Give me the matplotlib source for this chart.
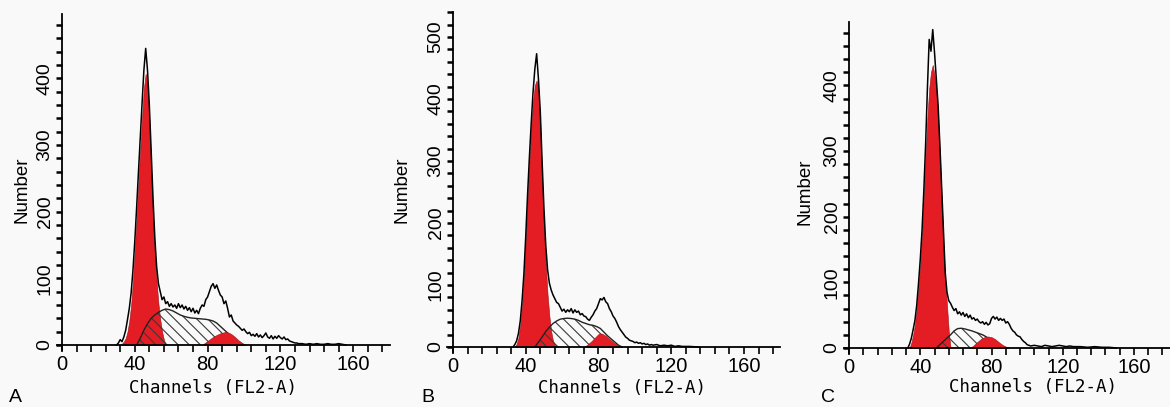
import matplotlib
matplotlib.use("Agg")
import matplotlib.pyplot as plt
from matplotlib.ticker import MultipleLocator

plt.rcParams["hatch.linewidth"] = 0.8

# ---------------- Panel A ----------------
a_total_ch = list(range(30, 131)) + [132, 134, 136, 138, 140, 142, 144, 146, 148, 150, 152, 154, 156]
a_total = [0, 3, 8, 5, 12, 22, 38, 55, 78, 112, 155, 205, 258, 310, 362, 412, 445, 412, 360, 292,
           222, 162, 118, 92, 80, 68, 72, 62, 65, 58, 62, 57, 60, 55, 62, 56, 60, 54, 58, 52,
           56, 50, 55, 48, 52, 47, 55, 60, 58, 68, 72, 80, 88, 92, 85, 90, 82, 75, 72, 62,
           66, 55, 42, 45, 36, 33, 30, 28, 25, 22, 24, 20, 17, 19, 14, 16, 13, 17, 12, 15,
           11, 14, 18, 12, 10, 14, 9, 13, 10, 14, 11, 9, 12, 8, 9, 6, 5, 4, 3, 3,
           2, 2, 1, 2, 1, 2, 1, 1, 2, 1, 1, 2, 1, 0]
a_g1_ch = list(range(32, 58))
a_g1 = [0, 2, 5, 10, 20, 36, 60, 95, 140, 188, 240, 292, 340, 385, 407, 390, 340, 265, 190, 135,
        95, 62, 38, 20, 8, 0]
a_s_ch = list(range(41, 100, 2)) + [100]
a_s = [0, 10, 22, 32, 40, 45, 49, 52, 54, 53, 51, 48, 45, 43, 41.5, 40.5, 40, 39.5, 39, 38.5,
       37.5, 36, 33, 28, 23, 18, 12.5, 8, 4, 1, 0]
a_g2_ch = [77, 79, 81, 83, 85, 87, 89, 90, 91, 93, 95, 97, 99, 101]
a_g2 = [0, 4, 8, 12, 15, 17.5, 19, 19.5, 19, 16.5, 12, 7, 3, 0]

# ---------------- Panel B ----------------
b_total_ch = list(range(33, 111)) + [112, 114, 116, 118, 120, 122, 124, 126, 130, 135]
b_total = [0, 4, 10, 22, 42, 75, 118, 178, 245, 305, 360, 410, 448, 473, 432, 380, 300, 225, 165, 125,
           103, 92, 84, 78, 72, 70, 64, 58, 61, 56, 60, 57, 62, 55, 60, 56, 58, 52, 54, 50,
           49, 45, 43, 48, 52, 58, 62, 70, 78, 76, 80, 73, 70, 62, 57, 50, 46, 40, 33, 28,
           24, 20, 16, 14, 11, 10, 9, 7, 8, 6, 7, 5, 6, 4, 5, 3, 4, 3,
           4, 2, 3, 2, 3, 1, 2, 1, 1, 0]
b_g1_ch = list(range(34, 58))
b_g1 = [0, 5, 15, 35, 65, 110, 170, 235, 295, 350, 395, 422, 430, 415, 360, 270, 195, 135, 85, 50,
        25, 10, 3, 0]
b_s_ch = list(range(45, 94, 2))
b_s = [0, 8, 16, 25, 32, 38, 42, 45, 46, 46.5, 46, 45, 43, 40, 38, 36, 35, 33, 30, 24,
       18, 13, 8, 3, 0]
b_g2_ch = [72, 74, 76, 78, 80, 81, 82, 84, 86, 88, 90, 92, 93]
b_g2 = [0, 4, 9, 15, 21, 22, 21.5, 18, 13, 8, 4, 1, 0]

# ---------------- Panel C ----------------
c_total_ch = list(range(33, 103)) + [104, 106, 108, 110, 112, 114, 116, 118, 120, 122, 124, 126,
                                     130, 134, 138, 142, 146, 150]
c_total = [0, 6, 15, 28, 42, 65, 98, 135, 180, 240, 310, 395, 470, 452, 485, 450, 410, 370, 310, 245,
           180, 115, 85, 72, 68, 62, 57, 60, 52, 55, 50, 54, 48, 52, 46, 50, 44, 46, 42, 44,
           40, 38, 40, 36, 39, 35, 37, 45, 48, 44, 47, 42, 45, 42, 44, 38, 40, 36, 30, 26,
           24, 20, 18, 17, 13, 10, 8, 5, 4, 3,
           4, 3, 2, 4, 3, 2, 3, 4, 3, 2, 3, 2, 2, 1, 2, 1, 1, 0]
c_g1_ch = list(range(34, 58))
c_g1 = [0, 8, 20, 35, 58, 90, 125, 170, 228, 290, 350, 395, 420, 431, 415, 395, 355, 295, 230, 160,
        105, 65, 25, 0]
c_s_ch = list(range(49, 90, 2))
c_s = [0, 5, 10, 15, 20, 26, 29.5, 30, 29, 27.5, 26, 24, 22, 20, 17, 13, 9, 5.5, 3, 1, 0]
c_g2_ch = [68, 70, 72, 74, 76, 78, 80, 82, 84, 86, 88, 90]
c_g2 = [0, 4, 9, 13.5, 16.5, 17.5, 16.5, 13.5, 9, 5, 2, 0]

x_ticks = [0, 40, 80, 120, 160]
x_label = "Channels (FL2-A)"
y_label = "Number"
panel_letters = ["A", "B", "C"]

W, H = 1170, 407
BG = "#f9f9f9"
RED = "#e41d25"

fig = plt.figure(figsize=(W / 100, H / 100), dpi=100, facecolor=BG)


def px_axes(x0, x1, ytop, ybot):
    return fig.add_axes([x0 / W, (H - ybot) / H, (x1 - x0) / W, (ybot - ytop) / H])


panels = [
    dict(box=(56.5, 389.6, 13.75, 350.3), ymin=-8, ymax=497,
         tot=(a_total_ch, a_total), g1=(a_g1_ch, a_g1), s=(a_s_ch, a_s), g2=(a_g2_ch, a_g2),
         xl=(213, 388), yl=(22, 190), let=(15, 398)),
    dict(box=(447.5, 780.4, 12.2, 352.0), ymin=-8, ymax=540,
         tot=(b_total_ch, b_total), g1=(b_g1_ch, b_g1), s=(b_s_ch, b_s), g2=(b_g2_ch, b_g2),
         xl=(622, 388), yl=(402, 190), let=(428, 398)),
    dict(box=(843.7, 1169.6, 21.7, 353.2), ymin=-8, ymax=497,
         tot=(c_total_ch, c_total), g1=(c_g1_ch, c_g1), s=(c_s_ch, c_s), g2=(c_g2_ch, c_g2),
         xl=(1033, 387), yl=(805, 192), let=(828, 397)),
]

for p, letter in zip(panels, panel_letters):
    ax = px_axes(*p["box"])
    ax.set_facecolor(BG)
    ax.set_xlim(-3, 180)
    ax.set_ylim(p["ymin"], p["ymax"])

    # G1 peak
    ax.fill_between(p["g1"][0], p["g1"][1], 0, facecolor=RED, edgecolor="#a01015",
                    linewidth=0.4, zorder=2)
    # S phase (hatched)
    ax.fill_between(p["s"][0], p["s"][1], 0, facecolor="none", edgecolor="#3a3a3a",
                    hatch="\\\\\\", linewidth=0, zorder=3)
    ax.plot(p["s"][0], p["s"][1], color="#222222", lw=1.0, zorder=3.5)
    # G2 peak
    ax.fill_between(p["g2"][0], p["g2"][1], 0, facecolor=RED, edgecolor="#a01015",
                    linewidth=0.4, zorder=4)
    # measured histogram
    ax.plot(p["tot"][0], p["tot"][1], color="black", lw=1.1, zorder=5)

    for side in ("top", "right"):
        ax.spines[side].set_visible(False)
    ax.spines["left"].set_position(("data", 0))
    ax.spines["bottom"].set_position(("data", 0))
    for side in ("left", "bottom"):
        ax.spines[side].set_linewidth(1.3)
        ax.spines[side].set_zorder(6)

    ax.set_xticks(x_ticks)
    ax.xaxis.set_minor_locator(MultipleLocator(8))
    ax.yaxis.set_major_locator(MultipleLocator(100))
    ax.yaxis.set_minor_locator(MultipleLocator(20))
    ax.tick_params(axis="x", which="both", direction="out", length=5, width=1.2, pad=2)
    ax.tick_params(axis="y", which="both", direction="out", length=4, width=1.8, pad=2)
    for lab in ax.get_xticklabels():
        lab.set_fontfamily("Liberation Sans")
        lab.set_fontsize(14.5)
    for lab in ax.get_yticklabels():
        lab.set_fontfamily("Liberation Sans")
        lab.set_fontsize(14)
        lab.set_rotation(90)
        lab.set_va("center")
        lab.set_ha("right")

    fig.text(p["xl"][0] / W, 1 - p["xl"][1] / H, x_label, family="DejaVu Sans Mono",
             fontsize=12.5, ha="center", va="center")
    fig.text(p["yl"][0] / W, 1 - p["yl"][1] / H, y_label, family="Liberation Sans",
             fontsize=13.5, rotation=90, ha="center", va="center")
    fig.text(p["let"][0] / W, 1 - p["let"][1] / H, letter, family="Liberation Sans",
             fontsize=14, ha="center", va="center")

fig.savefig("out.png", dpi=100, facecolor=BG)
